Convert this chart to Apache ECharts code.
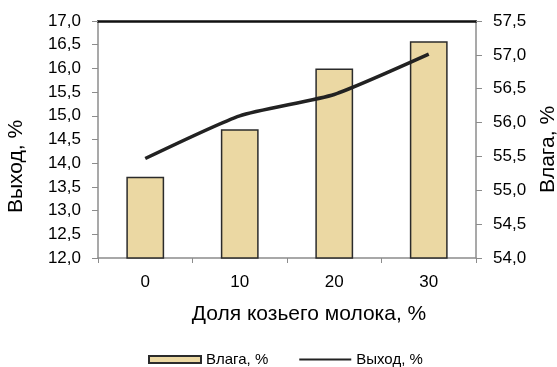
<!DOCTYPE html>
<html>
<head>
<meta charset="utf-8">
<script src="https://cdn.jsdelivr.net/npm/echarts@6/dist/echarts.min.js"></script>
<style>
  html, body { margin: 0; padding: 0; background: #fff; }
  #chart { width: 557px; height: 367px; }
</style>
</head>
<body>
<div id="chart"></div>
<script>
// Goat milk share in the blend, %
const categories = ['0', '10', '20', '30'];
// Moisture of the product, % (right axis, bars)
const moisture = [55.2, 55.9, 56.8, 57.2];
// Yield, % (left axis, line)
const yieldPct = [14.1, 15.0, 15.45, 16.3];

const FONT = 'Liberation Sans, Arial, sans-serif';
const fmt = v => v.toFixed(1).replace('.', ',');

const chart = echarts.init(document.getElementById('chart'), null, { renderer: 'canvas' });

chart.setOption({
  animation: false,
  backgroundColor: '#ffffff',
  textStyle: { fontFamily: FONT, color: '#000' },
  grid: { left: 98, right: 81, top: 21, bottom: 109, containLabel: false, outerBoundsMode: 'none' },
  legend: {
    left: 143,
    top: 347,
    itemWidth: 52,
    itemHeight: 7,
    itemGap: 30,
    textStyle: { fontFamily: FONT, fontSize: 15, color: '#000' },
    data: [
      { name: 'Влага, %', icon: 'rect' },
      { name: 'Выход, %', itemStyle: { opacity: 0 } }
    ]
  },
  xAxis: [
    {
      type: 'category',
      data: categories,
      position: 'bottom',
      boundaryGap: true,
      axisLine: { lineStyle: { color: '#8c8c8c', width: 1.5 } },
      axisTick: { show: true, alignWithLabel: false, length: 5, lineStyle: { color: '#8c8c8c', width: 1 } },
      axisLabel: { fontFamily: FONT, fontSize: 17, color: '#000', margin: 16 },
      name: 'Доля козьего молока, %',
      nameLocation: 'middle',
      nameGap: 46,
      nameTextStyle: { fontFamily: FONT, fontSize: 21, color: '#000', padding: [0, 0, 0, 44] }
    },
    {
      type: 'category',
      data: categories,
      position: 'top',
      axisLine: { lineStyle: { color: '#111', width: 2.5 } },
      axisTick: { show: false },
      axisLabel: { show: false }
    }
  ],
  yAxis: [
    {
      type: 'value',
      min: 12, max: 17, interval: 0.5,
      position: 'left',
      splitLine: { show: false },
      axisLine: { show: true, lineStyle: { color: '#8c8c8c', width: 1.5 } },
      axisTick: { show: true, length: 6, lineStyle: { color: '#8c8c8c', width: 1 } },
      axisLabel: { fontFamily: FONT, fontSize: 17, color: '#000', margin: 17, formatter: fmt },
      name: 'Выход, %',
      nameLocation: 'middle',
      nameGap: 71,
      nameTextStyle: { fontFamily: FONT, fontSize: 21, color: '#000', padding: [0, 54, 0, 0] }
    },
    {
      type: 'value',
      min: 54, max: 57.5, interval: 0.5,
      position: 'right',
      splitLine: { show: false },
      axisLine: { show: true, lineStyle: { color: '#8c8c8c', width: 1.5 } },
      axisTick: { show: true, length: 6, lineStyle: { color: '#8c8c8c', width: 1 } },
      axisLabel: { fontFamily: FONT, fontSize: 17, color: '#000', margin: 17, formatter: fmt },
      name: 'Влага, %',
      nameLocation: 'middle',
      nameGap: 62,
      nameRotate: 90,
      nameTextStyle: { fontFamily: FONT, fontSize: 21, color: '#000', padding: [0, 20, 0, 0] }
    }
  ],
  series: [
    {
      name: 'Влага, %',
      type: 'bar',
      yAxisIndex: 1,
      data: moisture,
      barWidth: '40%',
      itemStyle: {
        color: '#ebd8a3',
        borderColor: '#2b2b2b',
        borderWidth: 1.5
      },
      z: 2
    },
    {
      name: 'Выход, %',
      type: 'line',
      yAxisIndex: 0,
      data: yieldPct,
      smooth: 0.18,
      symbol: 'none',
      lineStyle: { color: '#222', width: 3.5 },
      itemStyle: { color: '#222' },
      z: 3
    }
  ]
});
</script>
</body>
</html>
